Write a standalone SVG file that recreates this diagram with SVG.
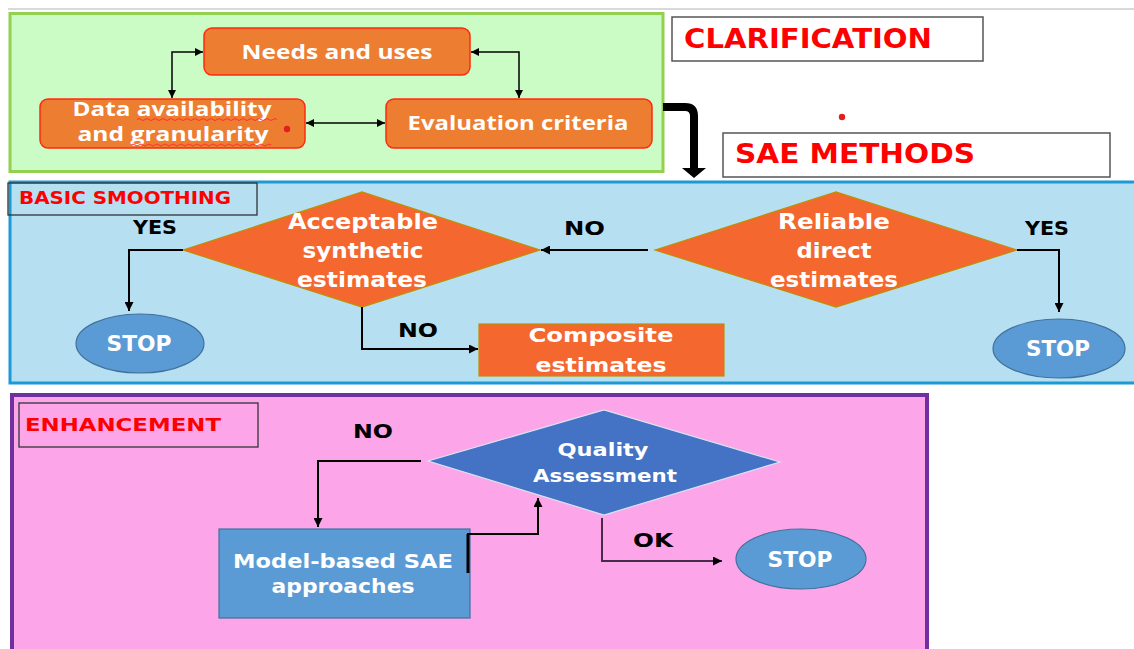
<svg xmlns="http://www.w3.org/2000/svg" width="1134" height="649" viewBox="0 0 1134 649">
<defs>
<style>
.top { font-family: "Open Sans", "Liberation Sans", sans-serif; font-weight: 700; font-size: 20px; fill: #ffffff; text-anchor: middle; }
.geo { font-family: "DejaVu Sans", "Liberation Sans", sans-serif; font-weight: 700; fill: #ffffff; text-anchor: middle; }
.lbl { font-family: "DejaVu Sans", "Liberation Sans", sans-serif; font-weight: 700; font-size: 19px; fill: #000000; }
.title { font-family: "DejaVu Sans", "Liberation Sans", sans-serif; font-weight: 700; fill: #ff0000; }
.obox { fill: #ed7d31; stroke: #ff2a10; stroke-width: 1.5; }
.dia { fill: #f4672f; stroke: #bf9000; stroke-width: 1.2; }
.stop { fill: #5b9bd5; stroke: #41719c; stroke-width: 1.2; }
.conn { fill: none; stroke: #000000; stroke-width: 2; }
.thin { fill: none; stroke: #000000; stroke-width: 1.5; }
.wbox { fill: #ffffff; stroke: #555555; stroke-width: 1.5; }
.squig { fill: none; stroke: #ff3030; stroke-width: 1; }
</style>
<marker id="ah" viewBox="0 0 10 10" refX="10" refY="5" markerWidth="9" markerHeight="9" markerUnits="userSpaceOnUse" orient="auto-start-reverse">
<path d="M0,0 L10,5 L0,10 z" fill="#000000"/>
</marker>
<marker id="ahs" viewBox="0 0 10 10" refX="10" refY="5" markerWidth="8" markerHeight="8" markerUnits="userSpaceOnUse" orient="auto-start-reverse">
<path d="M0,0 L10,5 L0,10 z" fill="#000000"/>
</marker>
</defs>

<rect x="0" y="0" width="1134" height="649" fill="#ffffff"/>
<line x1="8" y1="9" x2="1134" y2="9" stroke="#cccccc" stroke-width="1.5"/>

<!-- Sections -->
<g id="clarification-section">
<rect x="10" y="13.5" width="653" height="158" fill="#ccfcc6" stroke="#92d050" stroke-width="3"/>
</g>
<g id="clarification-label">
<rect class="wbox" x="672" y="17" width="311" height="44"/>
<text class="title" x="684" y="48" font-size="26" textLength="248" lengthAdjust="spacingAndGlyphs">CLARIFICATION</text>
</g>
<g id="sae-methods-label">
<rect class="wbox" x="723" y="133" width="387" height="44"/>
<text class="title" x="735" y="163" font-size="26" textLength="240" lengthAdjust="spacingAndGlyphs">SAE METHODS</text>
</g>
<circle cx="842" cy="117" r="3.2" fill="#e02020"/>

<g id="basic-smoothing-section">
<rect x="10" y="182" width="1132" height="201" fill="#b6dff2" stroke="#1b9ad6" stroke-width="3"/>
<rect x="8" y="183" width="249" height="32" fill="none" stroke="#333333" stroke-width="1.3"/>
<text class="title" x="19" y="204" font-size="17" textLength="212" lengthAdjust="spacingAndGlyphs">BASIC SMOOTHING</text>
</g>

<g id="enhancement-section">
<rect x="12" y="395" width="915" height="270" fill="#fca6e9" stroke="#7030a0" stroke-width="4"/>
<rect x="19" y="403" width="239" height="44" fill="none" stroke="#333333" stroke-width="1.3"/>
<text class="title" x="25" y="431" font-size="18" textLength="196" lengthAdjust="spacingAndGlyphs">ENHANCEMENT</text>
</g>

<!-- Clarification nodes -->
<g id="needs-and-uses">
<rect class="obox" x="204" y="28" width="266" height="47" rx="8"/>
<text class="top" x="337" y="59" textLength="191" lengthAdjust="spacingAndGlyphs">Needs and uses</text>
</g>
<g id="data-availability">
<rect class="obox" x="40" y="99" width="265" height="49" rx="8"/>
<text class="top" x="172" y="116" textLength="199" lengthAdjust="spacingAndGlyphs">Data availability</text>
<text class="top" x="173" y="141" textLength="191" lengthAdjust="spacingAndGlyphs">and granularity</text>
<path class="squig" d="M137,119.5 q2,-2 4,0 t4,0 t4,0 t4,0 t4,0 t4,0 t4,0 t4,0 t4,0 t4,0 t4,0 t4,0 t4,0 t4,0 t4,0 t4,0 t4,0 t4,0 t4,0 t4,0 t4,0 t4,0 t4,0 t4,0 t4,0 t4,0 t4,0 t4,0 t4,0 t4,0 t4,0 t4,0 t4,0 t4,0 t4,0"/>
<path class="squig" d="M131,145 q2,-2 4,0 t4,0 t4,0 t4,0 t4,0 t4,0 t4,0 t4,0 t4,0 t4,0 t4,0 t4,0 t4,0 t4,0 t4,0 t4,0 t4,0 t4,0 t4,0 t4,0 t4,0 t4,0 t4,0 t4,0 t4,0 t4,0 t4,0 t4,0 t4,0 t4,0 t4,0 t4,0 t4,0 t4,0 t4,0"/>
<circle cx="287" cy="129" r="3.2" fill="#e02020"/>
</g>
<g id="evaluation-criteria">
<rect class="obox" x="386" y="99" width="266" height="49" rx="8"/>
<text class="top" x="518" y="130" textLength="221" lengthAdjust="spacingAndGlyphs">Evaluation criteria</text>
</g>

<!-- Basic smoothing nodes -->
<g id="acceptable-synthetic">
<polygon class="dia" points="183,250 362,192 540,250 362,307"/>
<text class="geo" x="363" y="229" font-size="21" textLength="150" lengthAdjust="spacingAndGlyphs">Acceptable</text>
<text class="geo" x="363" y="258" font-size="21" textLength="121" lengthAdjust="spacingAndGlyphs">synthetic</text>
<text class="geo" x="362" y="287" font-size="21" textLength="130" lengthAdjust="spacingAndGlyphs">estimates</text>
</g>
<g id="reliable-direct">
<polygon class="dia" points="655,250 836,192 1017,250 836,307"/>
<text class="geo" x="834" y="229" font-size="21" textLength="112" lengthAdjust="spacingAndGlyphs">Reliable</text>
<text class="geo" x="834" y="258" font-size="21" textLength="75" lengthAdjust="spacingAndGlyphs">direct</text>
<text class="geo" x="834" y="287" font-size="21" textLength="128" lengthAdjust="spacingAndGlyphs">estimates</text>
</g>
<g id="stop-left">
<ellipse class="stop" cx="140" cy="343.5" rx="64" ry="29.5"/>
<text class="geo" x="139" y="351" font-size="21" textLength="65" lengthAdjust="spacingAndGlyphs">STOP</text>
</g>
<g id="stop-right">
<ellipse class="stop" cx="1059" cy="348.5" rx="66" ry="29.5"/>
<text class="geo" x="1058" y="356" font-size="21" textLength="64" lengthAdjust="spacingAndGlyphs">STOP</text>
</g>
<g id="composite-estimates">
<rect x="479" y="324" width="245" height="52" fill="#f4672f" stroke="#bf9000" stroke-width="1.2"/>
<text class="geo" x="601" y="342" font-size="20" textLength="145" lengthAdjust="spacingAndGlyphs">Composite</text>
<text class="geo" x="601" y="372" font-size="20" textLength="131" lengthAdjust="spacingAndGlyphs">estimates</text>
</g>

<!-- Enhancement nodes -->
<g id="quality-assessment">
<polygon points="428,461 604,410 780,462 604,515" fill="#4472c4" stroke="#dae3f3" stroke-width="1.2"/>
<text class="geo" x="603" y="456" font-size="17" textLength="91" lengthAdjust="spacingAndGlyphs">Quality</text>
<text class="geo" x="605" y="482" font-size="17" textLength="144" lengthAdjust="spacingAndGlyphs">Assessment</text>
</g>
<g id="model-based">
<rect x="219" y="529" width="251" height="89" fill="#5b9bd5" stroke="#41719c" stroke-width="1.2"/>
<text class="geo" x="343" y="568" font-size="19" textLength="220" lengthAdjust="spacingAndGlyphs">Model-based SAE</text>
<text class="geo" x="343" y="593" font-size="19" textLength="143" lengthAdjust="spacingAndGlyphs">approaches</text>
</g>
<g id="stop-bottom">
<ellipse class="stop" cx="801" cy="559" rx="65" ry="30"/>
<text class="geo" x="800" y="567" font-size="21" textLength="65" lengthAdjust="spacingAndGlyphs">STOP</text>
</g>

<!-- Connectors -->
<g id="connectors">
<path class="thin" d="M203,52 H172 V98" marker-start="url(#ahs)" marker-end="url(#ahs)"/>
<path class="thin" d="M471,52 H519 V98" marker-start="url(#ahs)" marker-end="url(#ahs)"/>
<path class="thin" d="M306,123 H385" marker-start="url(#ahs)" marker-end="url(#ahs)"/>
<path d="M663,107 H685 Q694,107 694,116 V169" fill="none" stroke="#000000" stroke-width="8"/>
<polygon points="682,168 706,168 694,178" fill="#000000"/>
<path class="conn" d="M648,250 H541" marker-end="url(#ah)"/>
<path class="conn" d="M183,250 H129 V311" marker-end="url(#ah)"/>
<path class="conn" d="M362,307 V349 H478" marker-end="url(#ah)"/>
<path class="conn" d="M1017,250 H1059 V312" marker-end="url(#ah)"/>
<path class="conn" d="M421,461 H318 V527" marker-end="url(#ah)"/>
<path class="conn" d="M468,573 V534 H538 V498" marker-end="url(#ah)"/>
<line x1="468" y1="534" x2="468" y2="573" stroke="#000000" stroke-width="3"/>
<path d="M602,518 V561 H722" fill="none" stroke="#4a2a4a" stroke-width="2" marker-end="url(#ah)"/>
<text class="lbl" x="133" y="234" textLength="44" lengthAdjust="spacingAndGlyphs">YES</text>
<text class="lbl" x="564" y="235" textLength="41" lengthAdjust="spacingAndGlyphs">NO</text>
<text class="lbl" x="1025" y="235" textLength="44" lengthAdjust="spacingAndGlyphs">YES</text>
<text class="lbl" x="398" y="337" textLength="40" lengthAdjust="spacingAndGlyphs">NO</text>
<text class="lbl" x="353" y="438" textLength="40" lengthAdjust="spacingAndGlyphs">NO</text>
<text class="lbl" x="633" y="547" textLength="40" lengthAdjust="spacingAndGlyphs">OK</text>
</g>
</svg>
